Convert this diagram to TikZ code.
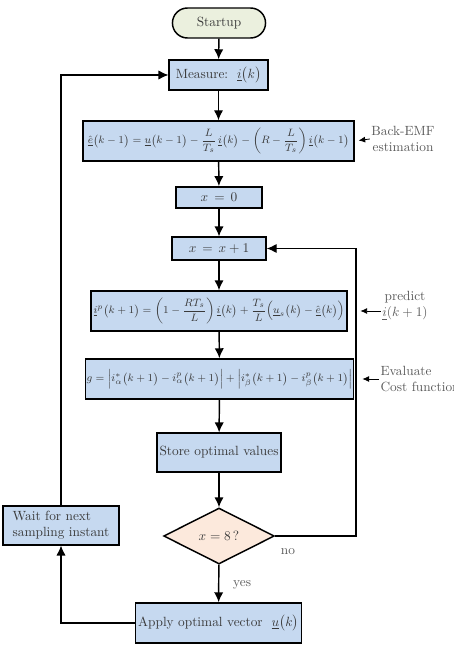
\documentclass[tikz,border=0pt]{standalone}
\usepackage{mathtools,amssymb}
\usepackage{tikz}
\usetikzlibrary{arrows.meta,shapes.geometric,shapes.misc}

\definecolor{boxblue}{HTML}{C6D9F0}
\definecolor{startgreen}{HTML}{EBF0DE}
\definecolor{decpeach}{HTML}{FCE9DC}
\definecolor{txtgray}{HTML}{3A3A3A}
\definecolor{notegray}{HTML}{5A5A5A}

\newcommand{\eqsize}{\fontsize{8.1}{10}\selectfont}

\begin{document}
\begin{tikzpicture}[x=0.75pt, y=-0.75pt,
  every node/.style={text=txtgray, font=\normalsize},
  proc/.style={draw=black, line width=1.1pt, fill=boxblue, inner sep=2pt},
  eqbox/.style={proc, font=\eqsize, inner xsep=1pt},
  term/.style={draw=black, line width=1.1pt, fill=startgreen, rounded rectangle, minimum width=76.5pt, minimum height=22.5pt},
  decide/.style={draw=black, line width=1.1pt, fill=decpeach, diamond, aspect=2, inner sep=0pt, minimum width=83pt, minimum height=42pt},
  note/.style={text=notegray, inner sep=1pt, align=center},
  flow/.style={line width=1.1pt, -{Latex[length=7.5pt,width=7pt]}},
  loop/.style={line width=0.9pt, -{Latex[length=7.5pt,width=7pt]}},
  hint/.style={line width=0.6pt, -{Latex[length=5pt,width=4.5pt]}}]
  \useasboundingbox (0,0) rectangle (453,645);

  % main column
  \node[term] (start) at (219,23) {Startup};
  \node[proc, minimum width=74pt, minimum height=22.5pt] (meas) at (218.5,75) {Measure:\ \ $\underline{i}\bigl(k\bigr)$};
  \node[eqbox, minimum width=203pt, minimum height=30pt] (emf) at (218.5,141)
    {$\hat{\underline{e}}\bigl(k-1\bigr)=\underline{u}\bigl(k-1\bigr)-\dfrac{L}{T_s}\,\underline{i}\bigl(k\bigr)-\left(R-\dfrac{L}{T_s}\right)\underline{i}\bigl(k-1\bigr)$};
  \node[proc, minimum width=64.5pt, minimum height=16pt] (zero) at (219,197.5) {$x\,=\,0$};
  \node[proc, minimum width=70.5pt, minimum height=17pt] (inc) at (219,248.5) {$x\,=\,x+1$};
  \node[eqbox, minimum width=192pt, minimum height=30pt] (pred) at (219,311)
    {$\underline{i}^p\bigl(k+1\bigr)=\left(1-\dfrac{RT_s}{L}\right)\underline{i}\bigl(k\bigr)+\dfrac{T_s}{L}\Bigl(\underline{u}_s\bigl(k\bigr)-\hat{\underline{e}}\bigl(k\bigr)\Bigr)$};
  \node[eqbox, minimum width=199pt, minimum height=30pt] (cost) at (219.5,379)
    {$g=\Bigl|i^*_\alpha\bigl(k+1\bigr)-i^p_\alpha\bigl(k+1\bigr)\Bigr|+\Bigl|i^*_\beta\bigl(k+1\bigr)-i^p_\beta\bigl(k+1\bigr)\Bigr|$};
  \node[proc, minimum width=88.5pt, minimum height=29pt] (store) at (219,452.5) {Store optimal values};
  \node[decide] (dec) at (219,536) {$x=8\,?$};
  \node[proc, minimum width=121pt, minimum height=30pt] (apply) at (218.5,623) {Apply optimal vector\ \ $\underline{u}\bigl(k\bigr)$};
  \node[proc, minimum width=87pt, minimum height=29pt, align=left] (wait) at (61,525.5) {Wait for next\\sampling instant};

  % side notes
  \node[note] (emfnote) at (403,139) {Back-EMF\\estimation};
  \node[note] (prednote) at (405,306) {predict\\$\underline{i}(k+1)$};
  \node[note, anchor=west, align=left] (costnote) at (379,379) {Evaluate\\Cost function};
  \coordinate (back) at (356,400);

  \draw[flow] (start) -- (meas);
  \draw[flow] (meas) -- (emf);
  \draw[flow] (emf) -- (zero);
  \draw[flow] (zero) -- (inc);
  \draw[flow] (inc) -- (pred);
  \draw[flow] (pred) -- (cost);
  \draw[flow] (cost) -- (store);
  \draw[flow] (store) -- (dec);
  \draw[flow] (dec) -- node[right=7pt, pos=0.55, text=notegray] {yes} (apply);
  \draw[loop] (dec.east) -| (back) |- (inc.east);
  \node[text=notegray] (no) at (288,552) {no};
  \draw[loop] (apply.west) -| (wait.south);
  \draw[loop] (wait.north) |- (meas.west);

  \draw[hint, shorten >=3pt] (emfnote.west) -- (emf.east);
  \draw[hint, shorten >=9.5pt] (prednote.west |- pred.east) -- (pred.east);
  \draw[hint, shorten >=6pt] (costnote.west) -- (cost.east);
\end{tikzpicture}
\end{document}
